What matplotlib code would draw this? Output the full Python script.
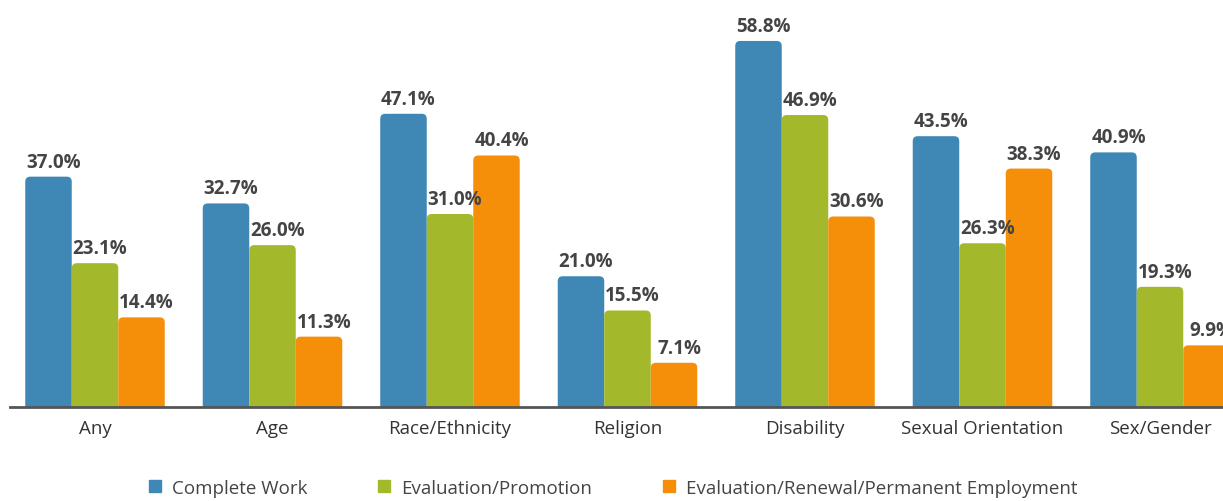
import numpy as np
import matplotlib.pyplot as plt
from matplotlib.patches import FancyBboxPatch
from matplotlib.lines import Line2D

categories = ["Any", "Age", "Race/Ethnicity", "Religion", "Disability",
              "Sexual Orientation", "Sex/Gender"]
complete_work = [37.0, 32.7, 47.1, 21.0, 58.8, 43.5, 40.9]
eval_promotion = [23.1, 26.0, 31.0, 15.5, 46.9, 26.3, 19.3]
eval_renewal = [14.4, 11.3, 40.4, 7.1, 30.6, 38.3, 9.9]
series_names = ["Complete Work", "Evaluation/Promotion",
                "Evaluation/Renewal/Permanent Employment"]

colors = ["#3f87b4", "#a4b82c", "#f58f0a"]
text_col = "#444444"

plt.rcParams['font.family'] = ['Open Sans', 'DejaVu Sans']

fig = plt.figure(figsize=(12.23, 5.02), dpi=100)
ax = fig.add_axes([0, 0.1873, 1, 0.806])

x = np.arange(len(categories))
w = 0.262
px = 1 / 177.5  # data units per pixel in x
py = 65 / (0.806 * 502)  # data units per pixel in y
r = 5 * px

for k, vals in enumerate([complete_work, eval_promotion, eval_renewal]):
    bars = ax.bar(x + (k - 1) * w, vals, width=w, color=colors[k])
    for b, v in zip(bars, vals):
        x0, wd, h = b.get_x(), b.get_width(), b.get_height()
        b.remove()
        p = FancyBboxPatch((x0, -3), wd, h + 3,
                           boxstyle=f"round,pad=0,rounding_size={r}",
                           mutation_aspect=py / px,
                           facecolor=colors[k], edgecolor="none")
        ax.add_patch(p)
        ax.text(x0 + wd / 2 + 5 * px, h + 5 * py, f"{v:.1f}%",
                ha="center", va="bottom", fontsize=13.5, fontweight="bold",
                color=text_col)

ax.set_xlim(-95 / 177.5, (1223 - 95) / 177.5)
ax.set_ylim(0, 65)
for s in ["top", "right", "left"]:
    ax.spines[s].set_visible(False)
ax.spines["bottom"].set_color("#555555")
ax.spines["bottom"].set_linewidth(2)
ax.spines["bottom"].set_bounds(-85 / 177.5, (1223 - 95) / 177.5)
ax.set_yticks([])
ax.set_xticks(x)
ax.set_xticklabels(categories, fontsize=13.5, color="#333333")
ax.tick_params(axis="x", length=0, pad=9)

handles = [Line2D([], [], marker="s", linestyle="", markersize=8,
                  color=c) for c in colors]
fig.legend(handles, series_names, loc="lower center", ncol=3,
           bbox_to_anchor=(0.5, -0.025), frameon=False, fontsize=13.5,
           labelcolor=text_col, handletextpad=0.4, columnspacing=3.6,
           handlelength=1.0)

fig.savefig("out.png", dpi=100)
